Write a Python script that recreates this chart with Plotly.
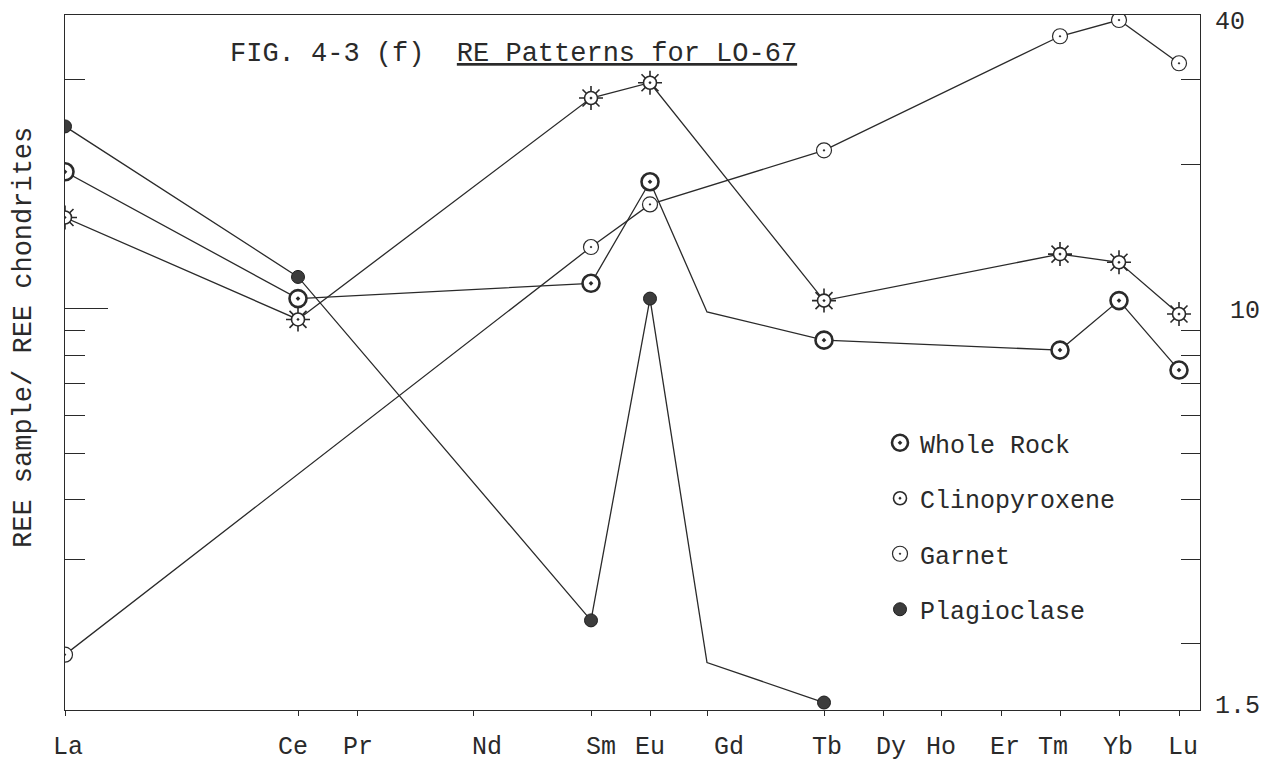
import plotly.graph_objects as go

# ---- data -------------------------------------------------------------
elements = ["La", "Ce", "Pr", "Nd", "Sm", "Eu", "Gd", "Tb", "Dy", "Ho", "Er", "Tm", "Yb", "Lu"]
# abscissa scale of the original figure (non-uniform spacing of the REE)
element_scale = [0, 233, 292, 408, 526, 585, 642, 759, 818, 876, 936, 995, 1054, 1114]
# where the typed labels sit on that scale
label_scale = [3, 228, 293, 422, 536, 585, 664, 762, 826, 876, 940, 988, 1053, 1118]

wr_el = ["La", "Ce", "Sm", "Eu", "Gd", "Tb", "Tm", "Yb", "Lu"]
wr_val = [19.3, 10.5, 11.3, 18.4, 9.85, 8.6, 8.2, 10.4, 7.45]

cpx_el = ["La", "Ce", "Sm", "Eu", "Tb", "Tm", "Yb", "Lu"]
cpx_val = [15.5, 9.5, 27.5, 29.6, 10.4, 13.0, 12.5, 9.75]

gt_el = ["La", "Sm", "Eu", "Tb", "Tm", "Yb", "Lu"]
gt_val = [1.9, 13.45, 16.5, 21.4, 37.0, 40.0, 32.5]

pl_el = ["La", "Ce", "Sm", "Eu", "Gd", "Tb"]
pl_val = [24.0, 11.65, 2.24, 10.5, 1.83, 1.51]

left_ticks = [3, 4, 5, 6, 7, 8, 9, 30]
left_long_tick = [10]
right_ticks = [2, 3, 4, 5, 6, 7, 8, 9, 20, 30]
right_labels_vals = [1.5, 10, 40]
right_labels_text = ["1.5", "\u00a010", "40"]

unmarked = {"Gd"}  # vertices drawn as kinks without a symbol

title_a = "FIG. 4-3 (f)\u00a0 "
title_b = "RE Patterns for LO-67"
y_title = "REE sample/ REE chondrites"

# ---- helpers ----------------------------------------------------------
pos = dict(zip(elements, element_scale))
FONT = "Courier New, Liberation Mono, monospace"
INK = "#2a2a2a"


def xs(els):
    return [pos[e] for e in els]


def marked(els, vals):
    pairs = [(pos[e], v) for e, v in zip(els, vals) if e not in unmarked]
    return [p[0] for p in pairs], [p[1] for p in pairs]


fig = go.Figure()

series = [
    ("Whole Rock", wr_el, wr_val),
    ("Clinopyroxene", cpx_el, cpx_val),
    ("Garnet", gt_el, gt_val),
    ("Plagioclase", pl_el, pl_val),
]

for name, els, vals in series:
    fig.add_trace(go.Scatter(x=xs(els), y=vals, mode="lines",
                             line=dict(color=INK, width=1.3),
                             showlegend=False, hoverinfo="skip"))

# invisible companions so that the extra (overlaid) axes get drawn
for xa, ya in [("x2", "y2"), ("x2", "y3"), ("x", "y4")]:
    fig.add_trace(go.Scatter(x=xs(wr_el), y=wr_val, mode="lines", xaxis=xa, yaxis=ya,
                             line=dict(width=0), opacity=0,
                             showlegend=False, hoverinfo="skip"))

# Whole Rock markers
x, y = marked(wr_el, wr_val)
fig.add_trace(go.Scatter(x=x, y=y, mode="markers", name="Whole Rock", legendgroup="a",
                         marker=dict(symbol="circle-dot", size=17, color="white",
                                     line=dict(color=INK, width=2.6))))
# Clinopyroxene markers (gear: asterisk behind a white ring)
x, y = marked(cpx_el, cpx_val)
fig.add_trace(go.Scatter(x=x, y=y, mode="markers", showlegend=False, legendgroup="b",
                         marker=dict(symbol="asterisk-open", size=20, color=INK,
                                     line=dict(color=INK, width=1.6))))
fig.add_trace(go.Scatter(x=x, y=y, mode="markers", name="Clinopyroxene", legendgroup="b",
                         marker=dict(symbol="circle-dot", size=13, color="white",
                                     line=dict(color=INK, width=1.6))))
# Garnet markers
x, y = marked(gt_el, gt_val)
fig.add_trace(go.Scatter(x=x, y=y, mode="markers", name="Garnet", legendgroup="c",
                         marker=dict(symbol="circle-dot", size=15, color="white",
                                     line=dict(color=INK, width=1.2))))
# Plagioclase markers
x, y = marked(pl_el, pl_val)
fig.add_trace(go.Scatter(x=x, y=y, mode="markers", name="Plagioclase", legendgroup="d",
                         marker=dict(symbol="circle", size=13, color="#3c3c3c",
                                     line=dict(color="#1e1e1e", width=1))))

yr = [0.1634, 1.6125]
xr = [0, 1135]

# the page body adds an 8px offset; the figure is sized so the plot area
# lands where it sits in the original
fig.update_layout(
    width=1260, height=756,
    margin=dict(l=57, r=68, t=7, b=54, autoexpand=False),
    paper_bgcolor="white", plot_bgcolor="white",
    font=dict(family=FONT, size=25, color=INK),
    xaxis=dict(range=xr, tickvals=element_scale, showticklabels=False,
               ticks="outside", ticklen=5, tickwidth=1.2, tickcolor=INK,
               showline=True, linecolor=INK, linewidth=1.3, mirror=True,
               showgrid=False, zeroline=False, layer="below traces", automargin=False),
    xaxis2=dict(range=xr, overlaying="x", anchor="y", side="bottom",
                tickvals=label_scale, ticktext=elements, ticks="",
                showline=False, showgrid=False, zeroline=False, automargin=False,
                tickfont=dict(family=FONT, size=25, color=INK),
                ticklabelstandoff=18, ticklabeloverflow="allow"),
    yaxis=dict(type="log", range=yr, tickvals=left_ticks, showticklabels=False,
               ticks="inside", ticklen=20, tickwidth=1.2, tickcolor=INK,
               showline=True, linecolor=INK, linewidth=1.3, automargin=False,
               showgrid=False, zeroline=False, layer="below traces"),
    yaxis2=dict(type="log", range=yr, overlaying="y", side="right", anchor="x",
                tickvals=right_ticks, showticklabels=False,
                ticks="inside", ticklen=19, tickwidth=1.2, tickcolor=INK,
                showline=True, linecolor=INK, linewidth=1.3, automargin=False,
                showgrid=False, zeroline=False, layer="below traces"),
    yaxis3=dict(type="log", range=yr, overlaying="y", side="right", anchor="x",
                tickvals=right_labels_vals, ticktext=right_labels_text, ticks="",
                showline=False, showgrid=False, zeroline=False, automargin=False,
                tickfont=dict(family=FONT, size=25, color=INK),
                ticklabelstandoff=14, ticklabeloverflow="allow"),
    yaxis4=dict(type="log", range=yr, overlaying="y", side="left", anchor="x",
                tickvals=left_long_tick, showticklabels=False,
                ticks="inside", ticklen=43, tickwidth=1.2, tickcolor=INK,
                showline=False, showgrid=False, zeroline=False, automargin=False),
    legend=dict(x=(880 - 65) / 1135, y=(710 - 420) / 695, xanchor="left", yanchor="top",
                bgcolor="rgba(0,0,0,0)", font=dict(family=FONT, size=25, color=INK),
                tracegroupgap=20, traceorder="grouped", itemsizing="trace"),
    showlegend=True,
    annotations=[
        dict(text=title_a + "<u>" + title_b + "</u>", xref="paper", yref="paper",
             x=(228 - 65) / 1135, y=(710 - 54) / 695, xanchor="left", yanchor="middle",
             showarrow=False, font=dict(family=FONT, size=27, color=INK)),
        dict(text=y_title, xref="paper", yref="paper", textangle=-90,
             x=(24 - 65) / 1135, y=(710 - 338) / 695, xanchor="center", yanchor="middle",
             showarrow=False, font=dict(family=FONT, size=27, color=INK)),
    ],
)

fig.write_html("out.html")
